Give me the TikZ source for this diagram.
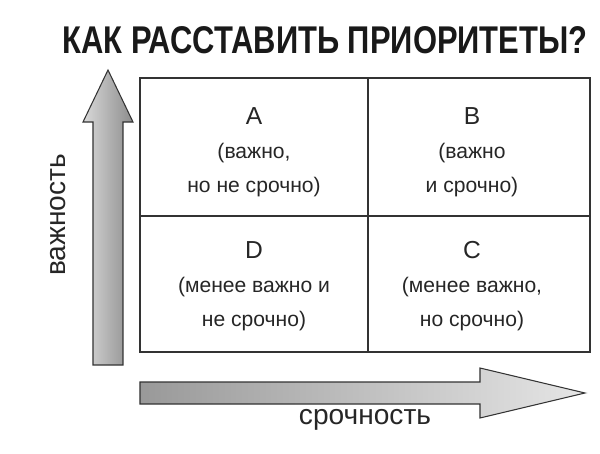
\documentclass[tikz,border=0pt]{standalone}
\usepackage{fontspec}
\setmainfont{Liberation Sans}
\usetikzlibrary{positioning}
\tikzset{
  cell/.style={align=center,font=\fontsize{12}{19.5}\selectfont,text=black!85},
  bigarrow/.style={draw=black!80,line width=0.6pt,left color=black!15,right color=black!45},
  axislabel/.style={font=\fontsize{16}{18}\selectfont,text=black!85}
}
\begin{document}
\begin{tikzpicture}[x=0.02cm,y=-0.02cm]
  \useasboundingbox (0,0) rectangle (600,454);
  % title
  \node[font=\bfseries\fontsize{22}{24}\selectfont,xscale=0.8,text=black!90] (title) at (325,40) {КАК РАССТАВИТЬ ПРИОРИТЕТЫ?};
  % grid
  \draw[line width=0.8pt,black!80] (140,78) rectangle (590,352);
  \draw[line width=0.8pt,black!80] (368,78) -- (368,352);
  \draw[line width=0.8pt,black!80] (140,216) -- (590,216);
  % cells
  \node[cell] (A) at (254,152) {{\fontsize{14}{19.5}\selectfont A}\\(важно,\\но не срочно)};
  \node[cell] (B) at (472,152) {{\fontsize{14}{19.5}\selectfont B}\\(важно\\и срочно)};
  \node[cell] (D) at (254,286) {{\fontsize{14}{19.5}\selectfont D}\\(менее важно и\\не срочно)};
  \node[cell] (C) at (472,286) {{\fontsize{14}{19.5}\selectfont C}\\(менее важно,\\но срочно)};
  % vertical arrow
  \draw[bigarrow] (93,365) -- (93,122) -- (83,122) -- (108,70) -- (133,122) -- (123,122) -- (123,365) -- cycle;
  % horizontal arrow
  \draw[bigarrow,left color=black!40,right color=black!10] (140,382) -- (480,382) -- (480,368) -- (585,393) -- (480,418) -- (480,404) -- (140,404) -- cycle;
  \node[axislabel,rotate=90] (imp) at (58,215) {важность};
  \node[axislabel] (urg) at (365,420) {срочность};
\end{tikzpicture}
\end{document}
